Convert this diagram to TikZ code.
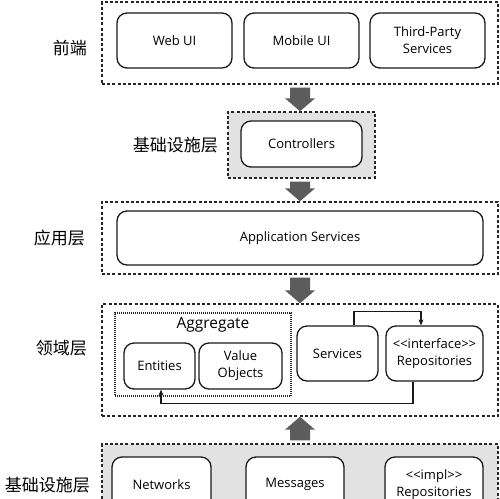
\documentclass[tikz,border=0pt]{standalone}
\usepackage{fontspec}
\setmainfont{Open Sans}
\newfontfamily\cjk{Noto Sans CJK SC}
\usetikzlibrary{arrows.meta,calc}
\definecolor{boxgray}{HTML}{E2E2E2}
\definecolor{arrowgray}{HTML}{5C5C5C}
\tikzset{
  layer/.style={draw=black!85, line width=1.4pt, dash pattern=on 3pt off 2.2pt, inner sep=0pt},
  aggbox/.style={draw=black!85, line width=1.2pt, dash pattern=on 1pt off 1pt, inner sep=0pt},
  comp/.style={draw=black!90, line width=1.3pt, rounded corners=10pt, fill=white, align=center,
    inner sep=0pt, font=\fontsize{13}{17}\selectfont, text=black},
  layerlabel/.style={anchor=east, inner sep=0pt, font=\cjk\fontsize{17}{20}\selectfont, text=black},
  bigarrow/.style={fill=arrowgray, to path={
    ($($(\tikztostart)!3pt!(\tikztotarget)$)!10pt!90:(\tikztotarget)$)
    -- ($($(\tikztotarget)!13pt!(\tikztostart)$)!10pt!90:(\tikztotarget)$)
    -- ($($(\tikztotarget)!13pt!(\tikztostart)$)!15pt!90:(\tikztotarget)$)
    -- (\tikztotarget)
    -- ($($(\tikztotarget)!13pt!(\tikztostart)$)!15pt!-90:(\tikztotarget)$)
    -- ($($(\tikztotarget)!13pt!(\tikztostart)$)!10pt!-90:(\tikztotarget)$)
    -- ($($(\tikztostart)!3pt!(\tikztotarget)$)!10pt!-90:(\tikztotarget)$)
    -- cycle}},
  link/.style={draw=black!90, line width=1.2pt, -{Stealth[length=6pt, width=5pt]}}
}

\begin{document}
\begin{tikzpicture}[x=1pt, y=-1pt]
		\useasboundingbox (0, 0) rectangle (500, 498);
		\clip (0, 0) rectangle (500, 498);
		
		%%%%% front %%%%%
		\node[layer, minimum width=396pt, minimum height=82pt] (front) at (300, 43) {};
		\node[comp, minimum width=115pt, minimum height=55pt] (webui) at (174.5, 40.5) {Web UI};
		\node[comp, minimum width=115pt, minimum height=55pt] (mobileui) at (301.5, 40.5) {Mobile UI};
		\node[comp, minimum width=115pt, minimum height=55pt] (thirdparty) at (427.5, 40.5) {Third-Party\\Services};
		\node[layerlabel] (frontlabel) at (87, 48) {前端};
		
		%%%%% controllers %%%%%
		\node[layer, fill=boxgray, minimum width=147pt, minimum height=66pt] (ctrlbox) at (301.5, 145) {};
		\node[comp, minimum width=121pt, minimum height=46pt] (ctrl) at (301.5, 144) {Controllers};
		\node[layerlabel] (ctrllabel) at (218, 145) {基础设施层};
		
		%%%%% application %%%%%
		\node[layer, minimum width=396pt, minimum height=72pt] (appbox) at (300, 238) {};
		\node[comp, minimum width=366pt, minimum height=54pt] (app) at (300, 238) {Application Services};
		\node[layerlabel] (applabel) at (85, 238) {应用层};
		
		%%%%% domain %%%%%
		\node[layer, minimum width=396pt, minimum height=112pt] (domainbox) at (300, 360) {};
		\node[aggbox, minimum width=176pt, minimum height=83pt] (aggregate) at (203, 354.5) {};
		\node[inner sep=0pt, font=\fontsize{15.5}{18}\selectfont, text=black] (agglabel) at (213, 325) {Aggregate};
		\node[comp, minimum width=71pt, minimum height=46pt] (entities) at (159.5, 366) {Entities};
		\node[comp, minimum width=83pt, minimum height=46pt] (valueobj) at (240.5, 366) {Value\\Objects};
		\node[comp, minimum width=81pt, minimum height=55pt] (services) at (337.5, 353.5) {Services};
		\node[comp, minimum width=97pt, minimum height=55pt] (repoif) at (434.5, 353.5) {<{}<interface>{}>\\Repositories};
		\node[layerlabel] (domainlabel) at (87, 348) {领域层};
		
		\draw[link] ([xshift=16.5pt]services.north) -- ++(0, -14) -| ([xshift=-13.5pt]repoif.north);
		\draw[link] ([xshift=-21.5pt]repoif.south) -- ++(0, 22) -| ([xshift=1.5pt]entities.south);
		
		%%%%% infrastructure %%%%%
		\node[layer, fill=boxgray, minimum width=396pt, minimum height=82pt] (infrabox) at (300, 485) {};
		\node[comp, minimum width=99pt, minimum height=55pt] (networks) at (161.5, 484.5) {Networks};
		\node[comp, minimum width=98pt, minimum height=55pt] (messages) at (295, 484.5) {Messages};
		\node[comp, minimum width=98pt, minimum height=55pt] (repoimpl) at (434, 484.5) {<{}<impl>{}>\\Repositories};
		\node[layerlabel] (infralabel) at (90, 485) {基础设施层};
		
		%%%%% layer arrows %%%%%
		\path[bigarrow] (front.south) to (front.south |- ctrlbox.north);
		\path[bigarrow] (ctrlbox.south -| front.south) to (appbox.north);
		\path[bigarrow] (appbox.south) to (domainbox.north);
		\path[bigarrow] (infrabox.north) to (domainbox.south);
		
\end{tikzpicture}
\end{document}
